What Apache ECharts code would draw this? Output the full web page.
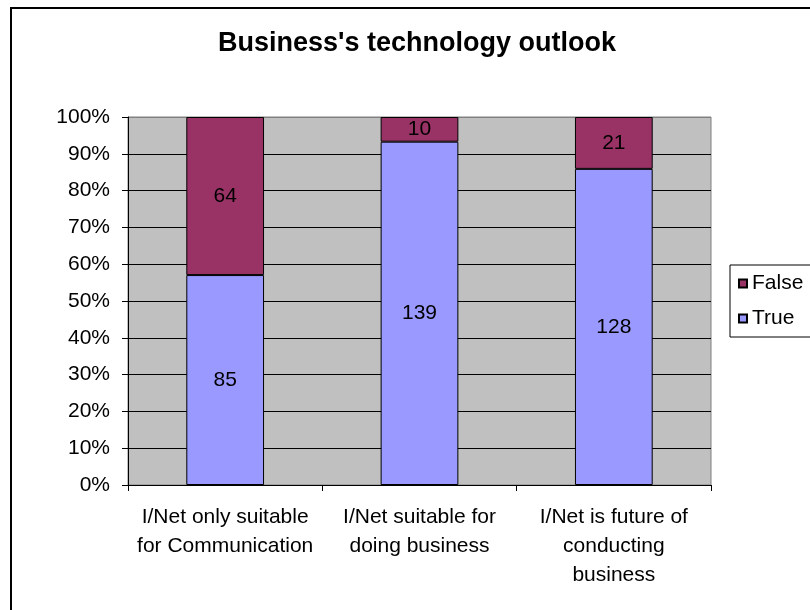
<!DOCTYPE html>
<html>
<head>
<meta charset="utf-8">
<script src="https://cdn.jsdelivr.net/npm/echarts@6/dist/echarts.min.js"></script>
<style>
  html, body { margin: 0; padding: 0; background: #fff; overflow: hidden; }
  #chart { width: 810px; height: 610px; }
</style>
</head>
<body>
<div id="chart"></div>
<script>
const categories = [
  "I/Net only suitable\nfor Communication",
  "I/Net suitable for\ndoing business",
  "I/Net is future of\nconducting\nbusiness",
];
const trueCounts = [85, 139, 128];
const falseCounts = [64, 10, 21];
const yTicks = [0, 10, 20, 30, 40, 50, 60, 70, 80, 90, 100];

// 100% stacked: share of each answer per category
const totals = trueCounts.map((v, i) => v + falseCounts[i]);
const truePct = trueCounts.map((v, i) => (v / totals[i]) * 100);
const falsePct = falseCounts.map((v, i) => (v / totals[i]) * 100);

const font = "Liberation Sans, Arial, sans-serif";
const chart = echarts.init(document.getElementById("chart"));

// grid lines black, top edge of plot area gray like the border
const splitColors = yTicks.map((t) => (t === 100 ? "#808080" : "#000"));

chart.setOption({
  animation: false,
  backgroundColor: "#fff",
  graphic: [
    {
      type: "rect",
      shape: { x: 11, y: 8, width: 900, height: 700 },
      style: { fill: "none", stroke: "#000", lineWidth: 2 },
      silent: true,
    },
  ],
  title: {
    text: "Business's technology outlook",
    left: 218,
    top: 30,
    padding: 0,
    textStyle: { fontFamily: font, fontSize: 27, fontWeight: "bold", color: "#000" },
  },
  legend: {
    data: ["False", "True"],
    orient: "vertical",
    left: 730,
    top: 265,
    padding: [8, 30, 8, 8],
    itemGap: 14,
    itemWidth: 8,
    itemHeight: 8,
    icon: "rect",
    borderColor: "#000",
    borderWidth: 1,
    textStyle: { fontFamily: font, fontSize: 21, color: "#000" },
  },
  grid: {
    left: 128,
    right: 99,
    top: 117,
    bottom: 125,
    show: true,
    backgroundColor: "#C0C0C0",
    borderColor: "#808080",
    borderWidth: 1,
  },
  xAxis: {
    type: "category",
    data: categories,
    axisLine: { lineStyle: { color: "#000", width: 1 } },
    axisTick: { show: true, length: 6, lineStyle: { color: "#000" } },
    axisLabel: {
      interval: 0,
      margin: 18,
      fontFamily: font,
      fontSize: 21,
      lineHeight: 29,
      color: "#000",
    },
  },
  yAxis: {
    type: "value",
    min: 0,
    max: 100,
    interval: 10,
    axisLine: { show: true, lineStyle: { color: "#000", width: 1 } },
    axisTick: { show: true, length: 6, lineStyle: { color: "#000" } },
    axisLabel: {
      formatter: "{value}%",
      margin: 18,
      fontFamily: font,
      fontSize: 21,
      color: "#000",
    },
    splitLine: { show: true, lineStyle: { color: splitColors, width: 1 } },
  },
  series: [
    {
      name: "True",
      type: "bar",
      stack: "all",
      barWidth: "40%",
      data: truePct,
      itemStyle: { color: "#9999FF", borderColor: "#000", borderWidth: 1 },
      label: {
        show: true,
        position: "inside",
        fontFamily: font,
        fontSize: 21,
        color: "#000",
        formatter: (p) => String(trueCounts[p.dataIndex]),
      },
    },
    {
      name: "False",
      type: "bar",
      stack: "all",
      barWidth: "40%",
      data: falsePct,
      itemStyle: { color: "#993366", borderColor: "#000", borderWidth: 1 },
      label: {
        show: true,
        position: "inside",
        fontFamily: font,
        fontSize: 21,
        color: "#000",
        formatter: (p) => String(falseCounts[p.dataIndex]),
      },
    },
  ],
});
</script>
</body>
</html>
